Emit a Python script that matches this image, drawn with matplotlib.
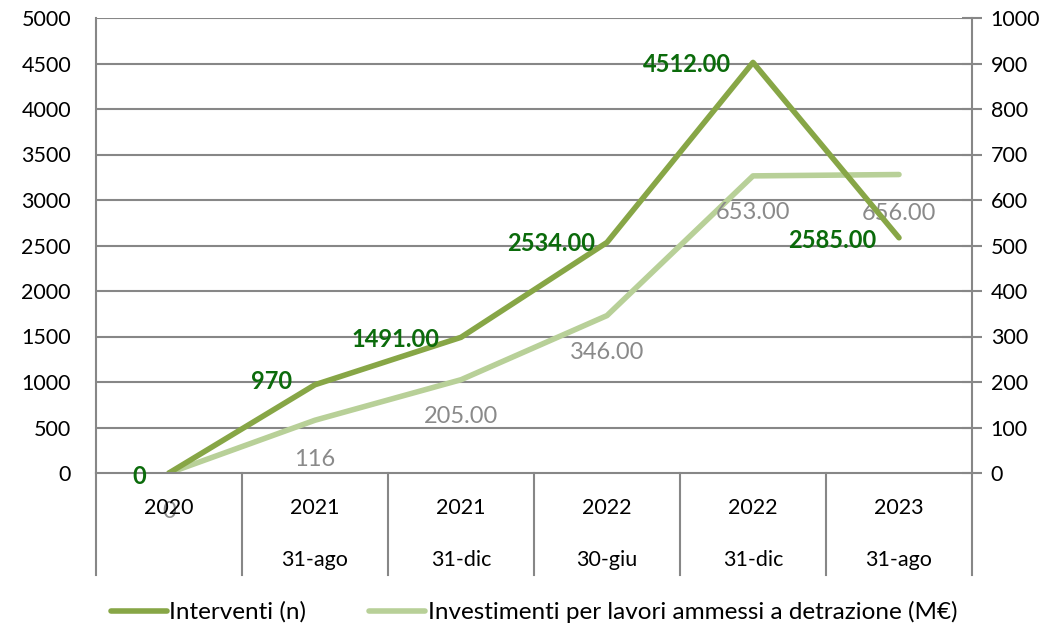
import matplotlib
matplotlib.use("Agg")
import matplotlib.pyplot as plt
from matplotlib.lines import Line2D

plt.rcParams['font.family'] = ['Lato', 'DejaVu Sans']

years = ["2020", "2021", "2021", "2022", "2022", "2023"]
dates = ["", "31-ago", "31-dic", "30-giu", "31-dic", "31-ago"]
interventi = [0, 970, 1491, 2534, 4512, 2585]
investimenti = [0, 116, 205, 346, 653, 656]
labels_interventi = ["0", "970", "1491.00", "2534.00", "4512.00", "2585.00"]
labels_investimenti = ["0", "116", "205.00", "346.00", "653.00", "656.00"]
series_names = ["Interventi (n)", "Investimenti per lavori ammessi a detrazione (M€)"]

c_dark = "#87A646"
c_light = "#B8D098"
c_lab_dark = "#0B6B0B"
c_lab_gray = "#8A8A8A"
c_grid = "#878787"

fig = plt.figure(figsize=(10.53, 6.26), dpi=100)
ax1 = fig.add_axes([96/1053, 153/626, (972-96)/1053, (473-18)/626])
ax2 = ax1.twinx()
ax1.set_zorder(ax2.get_zorder() + 1)
ax1.patch.set_visible(False)

x = list(range(len(years)))
ax1.plot(x, interventi, color=c_dark, lw=4, solid_capstyle='round', solid_joinstyle='round')
ax2.plot(x, investimenti, color=c_light, lw=4, solid_capstyle='round', solid_joinstyle='round')

ax1.set_xlim(-0.5, len(years) - 0.5)
ax1.set_ylim(0, 5000)
ax2.set_ylim(0, 1000)
ax1.set_yticks(range(0, 5001, 500))
ax2.set_yticks(range(0, 1001, 100))
ax1.set_xticks([])

for v in range(500, 5001, 500):
    ax2.axhline(v / 5, color=c_grid, lw=1.5, zorder=0)

for ax in (ax1, ax2):
    for s in ax.spines.values():
        s.set_visible(False)
ax1.spines['left'].set_visible(True)
ax1.spines['left'].set_color(c_grid)
ax1.spines['left'].set_linewidth(1.5)
ax2.spines['right'].set_visible(True)
ax2.spines['right'].set_color(c_grid)
ax2.spines['right'].set_linewidth(1.5)
ax1.spines['bottom'].set_visible(True)
ax1.spines['bottom'].set_color(c_grid)
ax1.spines['bottom'].set_linewidth(1.5)

ax1.tick_params(axis='y', length=0, labelsize=15.5, pad=18, colors='black')
ax2.tick_params(axis='y', length=15, width=1.5, color=c_grid, labelsize=15.5, pad=6,
                labelcolor='black', direction='inout')

# category table under the axis
trans = ax1.get_xaxis_transform()
axh_px = 473 - 18
for b in [i - 0.5 for i in range(len(years) + 1)]:
    ax1.add_line(Line2D([b, b], [0, -(575 - 473) / axh_px], transform=trans,
                        color=c_grid, lw=1.5, clip_on=False))
for i in x:
    ax1.text(i, -(508 - 473) / axh_px, years[i], transform=trans, ha='center', va='center', fontsize=15.5)
    if dates[i]:
        ax1.text(i, -(560 - 473) / axh_px, dates[i], transform=trans, ha='center', va='center', fontsize=15.5)

off1 = [(-30, -3), (-43, 3), (-66, -2), (-56, -1), (-66, -2), (-67, -3)]
off2 = [(0, -39), (0, -39), (0, -37), (0, -37), (0, -37), (0, -39)]
for i in x:
    ax1.annotate(labels_interventi[i], (i, interventi[i]), xytext=off1[i], textcoords='offset pixels',
                 ha='center', va='center', fontsize=17, fontweight='bold', color=c_lab_dark, zorder=5)
    ax2.annotate(labels_investimenti[i], (i, investimenti[i]), xytext=off2[i], textcoords='offset pixels',
                 ha='center', va='center', fontsize=17, color=c_lab_gray, zorder=5)

handles = [Line2D([], [], color=c_dark, lw=4, solid_capstyle='round'),
           Line2D([], [], color=c_light, lw=4, solid_capstyle='round')]
fig.legend(handles, series_names, loc='center', bbox_to_anchor=(534/1053, 1 - 612/626), ncol=2,
           frameon=False, fontsize=17.5, handlelength=2.3, handletextpad=0.1, columnspacing=2.6)

fig.savefig("out.png", dpi=100)
